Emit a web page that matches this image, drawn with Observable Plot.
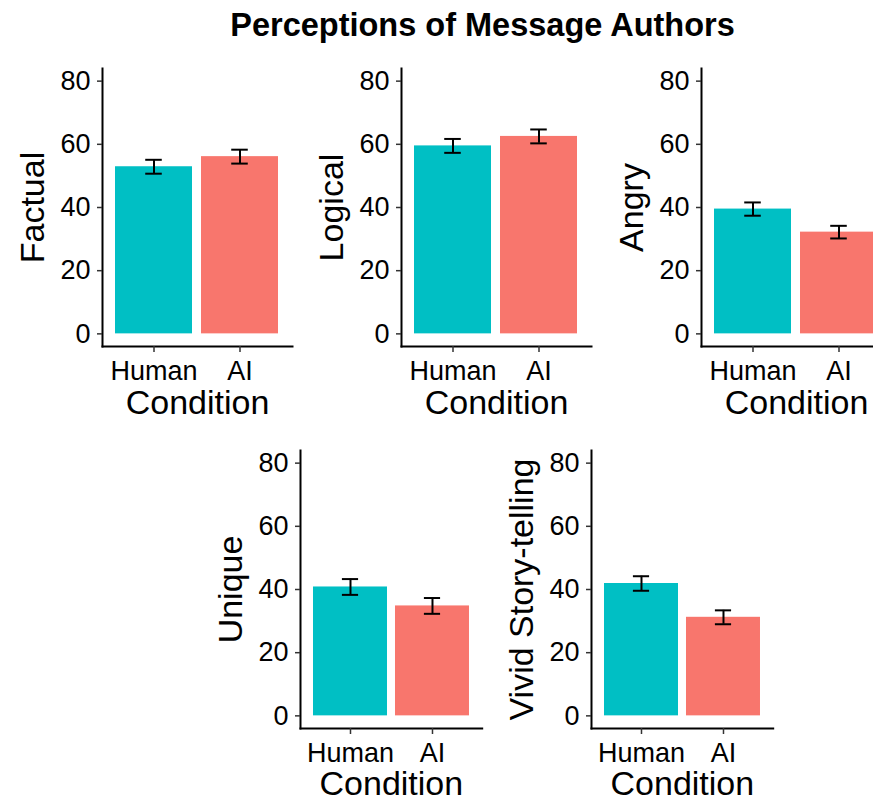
<!DOCTYPE html>
<html><head><meta charset="utf-8">
<script src="https://cdn.jsdelivr.net/npm/d3@7"></script>
<script src="https://cdn.jsdelivr.net/npm/@observablehq/plot@0.6"></script>
<style>
html,body{margin:0;padding:0;background:#fff;overflow:hidden;width:873px;height:804px}
#root{position:relative;width:873px;height:804px;overflow:hidden;font-family:"Liberation Sans",Arial,Helvetica,sans-serif}
#title{position:absolute;left:0;width:965px;text-align:center;top:9px;font-weight:bold;font-size:32.5px;line-height:32px;color:#000}
.panel{position:absolute}
.panel svg{overflow:visible;max-width:none !important;display:block}
</style></head><body><div id="root"><div id="title">Perceptions of Message Authors</div></div>
<script>
// ---- data ----
const measures = ["Factual", "Logical", "Angry", "Unique", "Vivid Story-telling"];
const conditions = ["Human", "AI"];
const humanMeans = [52.9, 59.5, 39.5, 40.8, 41.9];
const aiMeans    = [56.1, 62.5, 32.2, 34.8, 31.2];
const humanErr   = [2.2, 2.2, 2.1, 2.5, 2.3];
const aiErr      = [2.2, 2.2, 2.0, 2.5, 2.2];
const yTicks = [0, 20, 40, 60, 80];
const xTitle = "Condition";

// ---- layout (panel frames in page pixels) ----
const layout = [
  {ax: 101.7, top: 68, w: 190, h: 278},
  {ax: 401.2, top: 68, w: 190, h: 278},
  {ax: 700.7, top: 68, w: 190, h: 278},
  {ax: 300.0, top: 449.5, w: 181.7, h: 278},
  {ax: 590.5, top: 449.5, w: 181.7, h: 278}
];
const FONT = '"Liberation Sans", Arial, Helvetica, sans-serif';
const root = document.getElementById("root");

measures.forEach((m, i) => {
  const L = layout[i];
  const ML = 100, MR = 10, MT = 12, MB = 85;
  const data = conditions.map((c, j) => ({
    condition: c,
    mean: j ? aiMeans[i] : humanMeans[i],
    err: j ? aiErr[i] : humanErr[i]
  }));
  const step = L.w / 2.2;
  const capInset = step * (0.45 - 0.1);
  const W = ML + L.w + MR, H = MT + L.h + MB;
  const chart = Plot.plot({
    width: W,
    height: H,
    marginLeft: ML, marginRight: MR, marginTop: MT, marginBottom: MB,
    style: {fontFamily: FONT, background: "transparent", color: "black", overflow: "visible"},
    x: {domain: conditions, paddingInner: 0.1, paddingOuter: 0.15, label: null},
    y: {domain: [-4, 84], label: null},
    color: {domain: conditions, range: ["#00BFC4", "#F8766D"]},
    marks: [
      Plot.barY(data, {x: "condition", y1: 0, y2: "mean", fill: "condition"}),
      Plot.ruleX(data, {x: "condition", y1: d => d.mean - d.err, y2: d => d.mean + d.err, stroke: "black", strokeWidth: 2}),
      Plot.tickY(data, {x: "condition", y: d => d.mean + d.err, stroke: "black", strokeWidth: 2, insetLeft: capInset, insetRight: capInset}),
      Plot.tickY(data, {x: "condition", y: d => d.mean - d.err, stroke: "black", strokeWidth: 2, insetLeft: capInset, insetRight: capInset}),
      Plot.frame({anchor: "left", stroke: "black", strokeWidth: 2}),
      Plot.frame({anchor: "bottom", stroke: "black", strokeWidth: 2}),
      Plot.axisY({ticks: yTicks, tickSize: 5, tickPadding: 7, stroke: "#333", strokeWidth: 1.5, fontSize: 27, label: null, fill: "black"}),
      Plot.axisX({tickSize: 6, tickPadding: 8, stroke: "#333", strokeWidth: 1.5, fontSize: 27, label: null, fill: "black"}),
      Plot.text([m], {frameAnchor: "left", rotate: -90, textAnchor: "middle", lineAnchor: "middle", dx: -69, fontSize: 34, fill: "black"}),
      Plot.text([xTitle], {frameAnchor: "bottom", textAnchor: "middle", lineAnchor: "bottom", dy: 67, fontSize: 34, fill: "black"})
    ]
  });
  chart.style.width = W + "px";
  chart.style.height = H + "px";
  const div = document.createElement("div");
  div.className = "panel";
  div.style.left = (L.ax - ML) + "px";
  div.style.top = (L.top - MT) + "px";
  div.style.width = W + "px";
  div.style.height = H + "px";
  div.appendChild(chart);
  root.appendChild(div);
});
</script>
</body></html>
